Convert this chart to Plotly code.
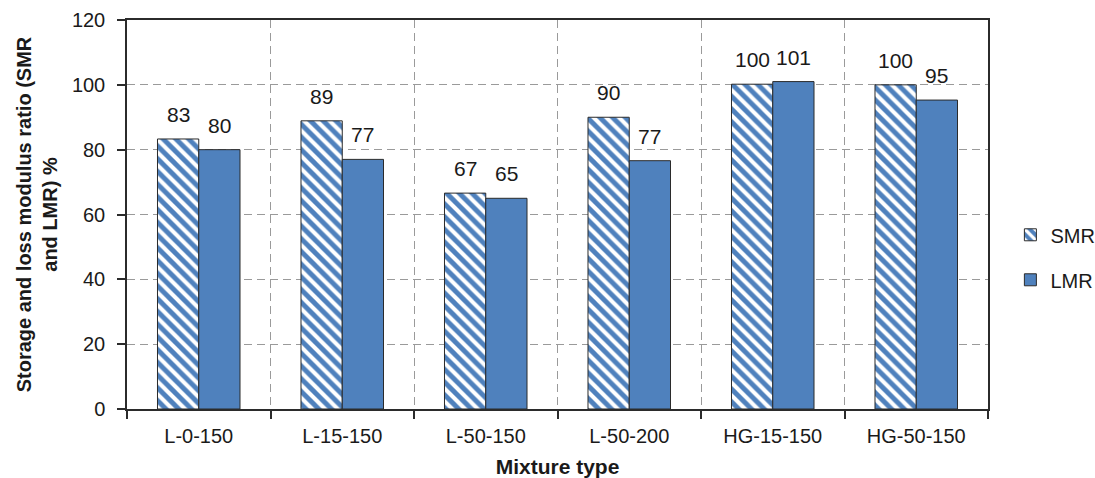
import plotly.graph_objects as go

categories = ["L-0-150", "L-15-150", "L-50-150", "L-50-200", "HG-15-150", "HG-50-150"]
smr = [83.3, 88.9, 66.6, 90.0, 100.2, 100.0]
lmr = [80.0, 77.0, 65.0, 76.6, 101.0, 95.3]
y_ticks = [0, 20, 40, 60, 80, 100, 120]

x_pos = list(range(len(categories)))
blue = "#4F81BD"
edge = "#2B2B2B"
font_family = "Liberation Sans, Arial, sans-serif"
bar_w = 0.2875

fig = go.Figure()
fig.add_trace(go.Bar(
    x=x_pos, y=smr, name="SMR", legendgroup="a",
    width=bar_w, offset=-bar_w,
    marker=dict(color=blue, line=dict(color=edge, width=1),
                pattern=dict(shape="\\", fgcolor="white", bgcolor=blue,
                             size=9, solidity=0.45, fillmode="replace")),
))
fig.add_trace(go.Bar(
    x=x_pos, y=lmr, name="LMR", legendgroup="b",
    width=bar_w, offset=0,
    marker=dict(color=blue, line=dict(color=edge, width=1)),
))

for series, shift in ((smr, -bar_w / 2), (lmr, bar_w / 2)):
    for xi, v in zip(x_pos, series):
        fig.add_annotation(x=xi + shift, y=v, text=f"{v:.0f}", showarrow=False,
                           yanchor="bottom", yshift=11,
                           font=dict(size=21, color="#1a1a1a", family=font_family))

fig.update_layout(
    width=1095, height=478,
    margin=dict(l=127, r=107, t=20, b=69, autoexpand=False),
    plot_bgcolor="white", paper_bgcolor="white",
    barmode="overlay",
    font=dict(family=font_family, color="#1a1a1a"),
    legend=dict(x=1.026, y=0.39, xanchor="left", yanchor="middle",
                font=dict(size=20), tracegroupgap=16, bgcolor="rgba(0,0,0,0)"),
    xaxis=dict(
        range=[-0.5, len(categories) - 0.5], automargin=False,
        tickmode="array", tickvals=x_pos, ticktext=categories,
        ticks="", showgrid=False, zeroline=False, ticklabelstandoff=8,
        showline=True, linecolor=edge, linewidth=1.5, mirror=True,
        tickfont=dict(size=20),
        minor=dict(tickmode="linear", tick0=0.5, dtick=1, ticks="outside",
                   ticklen=8, tickcolor=edge, tickwidth=1.5,
                   showgrid=True, gridcolor="#9a9a9a", griddash="8px,5px", gridwidth=1.3),
        title=dict(text="<b>Mixture type</b>", font=dict(size=21), standoff=14),
    ),
    yaxis=dict(
        range=[0, 120], tickmode="array", tickvals=y_ticks, automargin=False,
        ticks="outside", ticklen=8, tickcolor=edge, tickwidth=1.5, ticklabelstandoff=8,
        showgrid=True, gridcolor="#9a9a9a", griddash="8px,5px", gridwidth=1.3,
        zeroline=False, showline=True, linecolor=edge, linewidth=1.5, mirror=True,
        tickfont=dict(size=20),
        title=dict(text="<b>Storage and loss modulus ratio (SMR<br>and LMR) %</b>",
                   font=dict(size=20), standoff=9),
    ),
)

fig.write_html("out.html", config={"displayModeBar": False},
               post_script="document.body.style.margin='0';")
